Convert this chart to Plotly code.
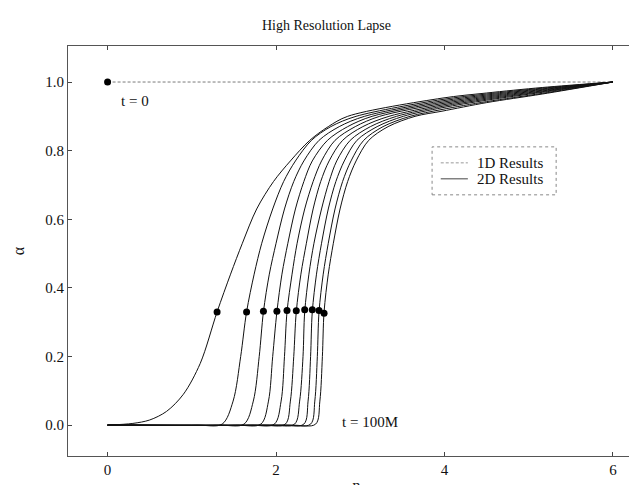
import plotly.graph_objects as go

# ---- data ----
time_labels = ["10M", "20M", "30M", "40M", "50M", "60M", "70M", "80M", "90M", "100M"]

# each curve: eta positions and lapse values
curve_eta = [
    [0.0, 0.3, 0.5, 0.7, 0.9, 1.1, 1.30, 1.46, 1.60, 1.77, 1.97, 2.17, 2.40, 2.62, 2.85, 3.97, 4.5, 5.16, 6.0],
    [0.0, 1.06, 1.36, 1.49, 1.58, 1.65, 1.74, 1.83, 1.96, 2.09, 2.23, 2.42, 2.65, 2.95, 3.97, 4.5, 5.16, 6.0],
    [0.0, 1.32, 1.62, 1.73, 1.80, 1.85, 1.92, 2.00, 2.10, 2.21, 2.33, 2.51, 2.75, 3.05, 3.97, 4.5, 5.16, 6.0],
    [0.0, 1.52, 1.82, 1.91, 1.96, 2.01, 2.07, 2.14, 2.23, 2.33, 2.43, 2.61, 2.85, 3.14, 3.97, 4.5, 5.16, 6.0],
    [0.0, 1.68, 1.98, 2.06, 2.10, 2.13, 2.19, 2.25, 2.34, 2.44, 2.54, 2.70, 2.94, 3.23, 3.97, 4.5, 5.16, 6.0],
    [0.0, 1.81, 2.11, 2.17, 2.21, 2.24, 2.295, 2.36, 2.44, 2.53, 2.63, 2.79, 3.03, 3.34, 3.97, 4.5, 5.16, 6.0],
    [0.0, 1.92, 2.22, 2.28, 2.32, 2.34, 2.39, 2.45, 2.54, 2.63, 2.72, 2.88, 3.12, 3.43, 3.97, 4.5, 5.16, 6.0],
    [0.0, 2.03, 2.33, 2.38, 2.41, 2.43, 2.48, 2.54, 2.62, 2.71, 2.81, 2.96, 3.20, 3.51, 3.97, 4.5, 5.16, 6.0],
    [0.0, 2.11, 2.41, 2.46, 2.49, 2.51, 2.56, 2.62, 2.70, 2.79, 2.89, 3.04, 3.27, 3.59, 3.97, 4.5, 5.16, 6.0],
    [0.0, 2.17, 2.47, 2.52, 2.55, 2.57, 2.62, 2.68, 2.76, 2.85, 2.95, 3.10, 3.33, 3.65, 3.97, 4.5, 5.16, 6.0],
]
curve_alpha = [
    [0.0, 0.005, 0.015, 0.04, 0.09, 0.18, 0.33, 0.44, 0.53, 0.63, 0.71, 0.77, 0.83, 0.87, 0.90, 0.953, 0.968, 0.984, 1.0],
    [0.0, 0.0, 0.003, 0.07, 0.20, 0.33, 0.44, 0.53, 0.63, 0.71, 0.77, 0.83, 0.87, 0.90, 0.949, 0.965, 0.982, 1.0],
    [0.0, 0.0, 0.003, 0.07, 0.20, 0.33, 0.44, 0.53, 0.63, 0.71, 0.77, 0.83, 0.87, 0.90, 0.945, 0.962, 0.980, 1.0],
    [0.0, 0.0, 0.003, 0.07, 0.20, 0.33, 0.44, 0.53, 0.63, 0.71, 0.77, 0.83, 0.87, 0.90, 0.941, 0.959, 0.978, 1.0],
    [0.0, 0.0, 0.003, 0.07, 0.20, 0.33, 0.44, 0.53, 0.63, 0.71, 0.77, 0.83, 0.87, 0.90, 0.937, 0.956, 0.976, 1.0],
    [0.0, 0.0, 0.003, 0.07, 0.20, 0.33, 0.44, 0.53, 0.63, 0.71, 0.77, 0.83, 0.87, 0.90, 0.933, 0.953, 0.974, 1.0],
    [0.0, 0.0, 0.003, 0.07, 0.20, 0.33, 0.44, 0.53, 0.63, 0.71, 0.77, 0.83, 0.87, 0.90, 0.929, 0.950, 0.972, 1.0],
    [0.0, 0.0, 0.003, 0.07, 0.20, 0.33, 0.44, 0.53, 0.63, 0.71, 0.77, 0.83, 0.87, 0.90, 0.925, 0.947, 0.970, 1.0],
    [0.0, 0.0, 0.003, 0.07, 0.20, 0.33, 0.44, 0.53, 0.63, 0.71, 0.77, 0.83, 0.87, 0.90, 0.920, 0.943, 0.967, 1.0],
    [0.0, 0.0, 0.003, 0.07, 0.20, 0.33, 0.44, 0.53, 0.63, 0.71, 0.77, 0.83, 0.87, 0.90, 0.915, 0.940, 0.965, 1.0],
]

initial_eta = [0.0, 6.0]
initial_alpha = [1.0, 1.0]

dot_eta = [0.0, 1.30, 1.65, 1.85, 2.01, 2.13, 2.24, 2.34, 2.43, 2.51, 2.57]
dot_alpha = [1.0, 0.33, 0.33, 0.332, 0.332, 0.334, 0.333, 0.336, 0.336, 0.334, 0.326]

legend_labels = ["1D Results", "2D Results"]

x_ticks = [0, 2, 4, 6]
y_ticks = [0.0, 0.2, 0.4, 0.6, 0.8, 1.0]

SERIF = "Liberation Serif, Times New Roman, serif"
INK = "#111111"

fig = go.Figure()

# t = 0 line
fig.add_trace(go.Scatter(x=initial_eta, y=initial_alpha, mode="lines",
                         line=dict(color="#7a7a7a", width=1, dash="3px,2px"),
                         showlegend=False, hoverinfo="skip"))

for i, (ex, ay) in enumerate(zip(curve_eta, curve_alpha)):
    fig.add_trace(go.Scatter(x=ex, y=ay, mode="lines", name="t = " + time_labels[i],
                             line=dict(color=INK, width=1, shape="spline", smoothing=0.9),
                             showlegend=False))

fig.add_trace(go.Scatter(x=dot_eta, y=dot_alpha, mode="markers",
                         marker=dict(color="black", size=7), showlegend=False))

fig.add_annotation(x=0.33, y=0.945, text="t = 0", showarrow=False,
                   font=dict(family=SERIF, size=15, color=INK))
fig.add_annotation(x=3.11, y=0.01, text="t = 100M", showarrow=False,
                   font=dict(family=SERIF, size=15, color=INK))

# hand-drawn legend (dashed box, short line samples)
fig.add_shape(type="rect", xref="paper", yref="paper",
              x0=0.631, x1=0.846, y0=0.637, y1=0.754,
              line=dict(color="#888", width=1, dash="dot"))
legend_y = [0.715, 0.676]
legend_dash = ["3px,2px", "solid"]
legend_col = ["#999999", "#444444"]
for lab, ly, ld, lc in zip(legend_labels, legend_y, legend_dash, legend_col):
    fig.add_shape(type="line", xref="paper", yref="paper", x0=0.646, x1=0.693, y0=ly, y1=ly,
                  line=dict(color=lc, width=1, dash=ld))
    fig.add_annotation(xref="paper", yref="paper", x=0.705, y=ly, text=lab, showarrow=False,
                       xanchor="left", yanchor="middle",
                       font=dict(family=SERIF, size=15, color=INK))

fig.update_layout(
    width=637, height=485,
    margin=dict(l=60, r=0, t=38, b=37),
    paper_bgcolor="white", plot_bgcolor="white",
    showlegend=False,
    title=dict(text="High Resolution Lapse", x=0.5, xanchor="center", y=0.965, yanchor="middle",
               font=dict(family=SERIF, size=14, color=INK)),
    font=dict(family=SERIF, size=15, color=INK),
    xaxis=dict(range=[-0.47, 6.38], tickvals=x_ticks, ticks="inside", ticklen=4,
               showline=True, linecolor="#555", linewidth=1, mirror="ticks",
               showgrid=False, zeroline=False, tickfont=dict(family=SERIF, size=15),
               title=dict(text="η", standoff=4, font=dict(family=SERIF, size=15))),
    yaxis=dict(range=[-0.09, 1.105], tickvals=y_ticks, tickformat=".1f", ticks="inside", ticklen=4,
               showline=True, linecolor="#555", linewidth=1, mirror=False,
               showgrid=False, zeroline=False, tickfont=dict(family=SERIF, size=15),
               title=dict(text="α", standoff=16, font=dict(family=SERIF, size=16))),
)

fig.write_html("out.html")
